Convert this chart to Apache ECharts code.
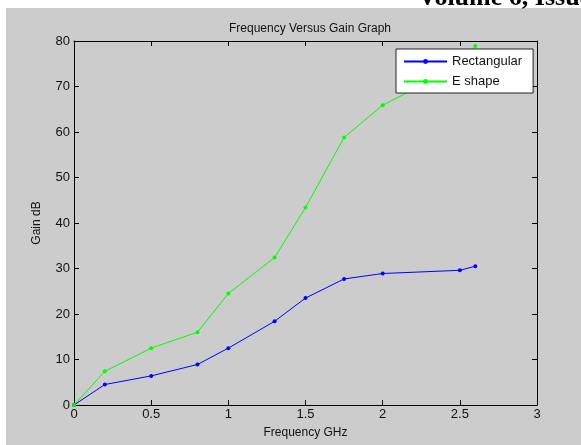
<!DOCTYPE html>
<html style="height: 100%">
   <head>
       <meta charset="utf-8">
   </head>
   <body style="height: 100%; margin: 0; background: #fff">
       <div id="container" style="width: 581px; height: 445px"></div>
       <script type="text/javascript" src="https://cdn.jsdelivr.net/npm/echarts@6/dist/echarts.min.js"></script>
       <script type="text/javascript">
// frequency in GHz, gain in dB
var freq = [0, 0.2, 0.5, 0.8, 1, 1.3, 1.5, 1.75, 2, 2.5, 2.6];
var rectGain = [0, 4.5, 6.4, 8.9, 12.5, 18.4, 23.5, 27.7, 28.9, 29.6, 30.5];
var eGain = [0, 7.4, 12.5, 16.0, 24.5, 32.4, 43.4, 58.8, 65.9, 74.5, 78.9];
var seriesNames = ['Rectangular', 'E shape'];
var seriesColors = ['#0000ff', '#00ff00'];

var FONT = '"Liberation Sans", Arial, sans-serif';

function pairs(xs, ys) {
    var out = [];
    for (var i = 0; i < xs.length; i++) {
        out.push([xs[i], ys[i]]);
    }
    return out;
}

function frameAxis(pos, showLabel, extra) {
    var a = {
        type: 'value',
        position: pos,
        axisLine: {show: true, onZero: false, lineStyle: {color: '#000', width: 1}},
        axisTick: {show: true, inside: true, length: 5, lineStyle: {color: '#000'}},
        axisLabel: {show: showLabel, color: '#111', fontFamily: FONT, fontSize: 13},
        splitLine: {show: false}
    };
    for (var k in extra) a[k] = extra[k];
    return a;
}

var dom = document.getElementById('container');
var myChart = echarts.init(dom);

var option = {
    animation: false,
    backgroundColor: '#fff',
    textStyle: {fontFamily: FONT},
    graphic: [
        {
            type: 'rect', left: 6, top: 8, z: -10,
            shape: {width: 575, height: 437},
            style: {fill: '#cccccc'}
        },
        {
            type: 'text', left: 418, top: -15, z: 10,
            style: {
                text: 'Volume 6, Issue',
                font: 'bold 26px "Liberation Serif", "Times New Roman", serif',
                fill: '#000'
            }
        }
    ],
    title: {
        text: 'Frequency Versus Gain Graph',
        left: 305,
        textAlign: 'center',
        top: 18,
        textStyle: {fontSize: 12, fontWeight: 'normal', color: '#111', fontFamily: FONT}
    },
    legend: {
        data: seriesNames,
        orient: 'vertical',
        left: 396,
        top: 49,
        itemWidth: 43,
        itemHeight: 6,
        itemGap: 5,
        padding: [5, 11, 4, 7],
        backgroundColor: '#fff',
        borderColor: '#222',
        borderWidth: 1,
        borderRadius: 0,
        textStyle: {fontSize: 13, color: '#111', fontFamily: FONT, lineHeight: 15}
    },
    grid: {left: 74, right: 44, top: 41, bottom: 40, containLabel: false},
    xAxis: [
        frameAxis('bottom', true, {
            min: 0, max: 3, interval: 0.5,
            name: 'Frequency GHz', nameLocation: 'middle', nameGap: 22,
            nameTextStyle: {fontSize: 12, color: '#111', fontFamily: FONT},
            axisLabel: {show: true, color: '#111', fontFamily: FONT, fontSize: 13, margin: 3}
        }),
        frameAxis('top', false, {min: 0, max: 3, interval: 0.5})
    ],
    yAxis: [
        frameAxis('left', true, {
            min: 0, max: 80, interval: 10,
            name: 'Gain dB', nameLocation: 'middle', nameGap: 31,
            nameTextStyle: {fontSize: 12, color: '#111', fontFamily: FONT},
            axisLabel: {show: true, color: '#111', fontFamily: FONT, fontSize: 13, margin: 4}
        }),
        frameAxis('right', false, {min: 0, max: 80, interval: 10})
    ],
    series: [
        {
            name: seriesNames[0],
            type: 'line',
            data: pairs(freq, rectGain),
            symbol: 'circle',
            symbolSize: 4,
            showAllSymbol: true,
            color: seriesColors[0],
            lineStyle: {width: 1, color: seriesColors[0]},
            itemStyle: {color: seriesColors[0]}
        },
        {
            name: seriesNames[1],
            type: 'line',
            data: pairs(freq, eGain),
            symbol: 'circle',
            symbolSize: 4,
            showAllSymbol: true,
            color: seriesColors[1],
            lineStyle: {width: 1, color: seriesColors[1]},
            itemStyle: {color: seriesColors[1]}
        }
    ]
};

myChart.setOption(option, true);
       </script>
   </body>
</html>
